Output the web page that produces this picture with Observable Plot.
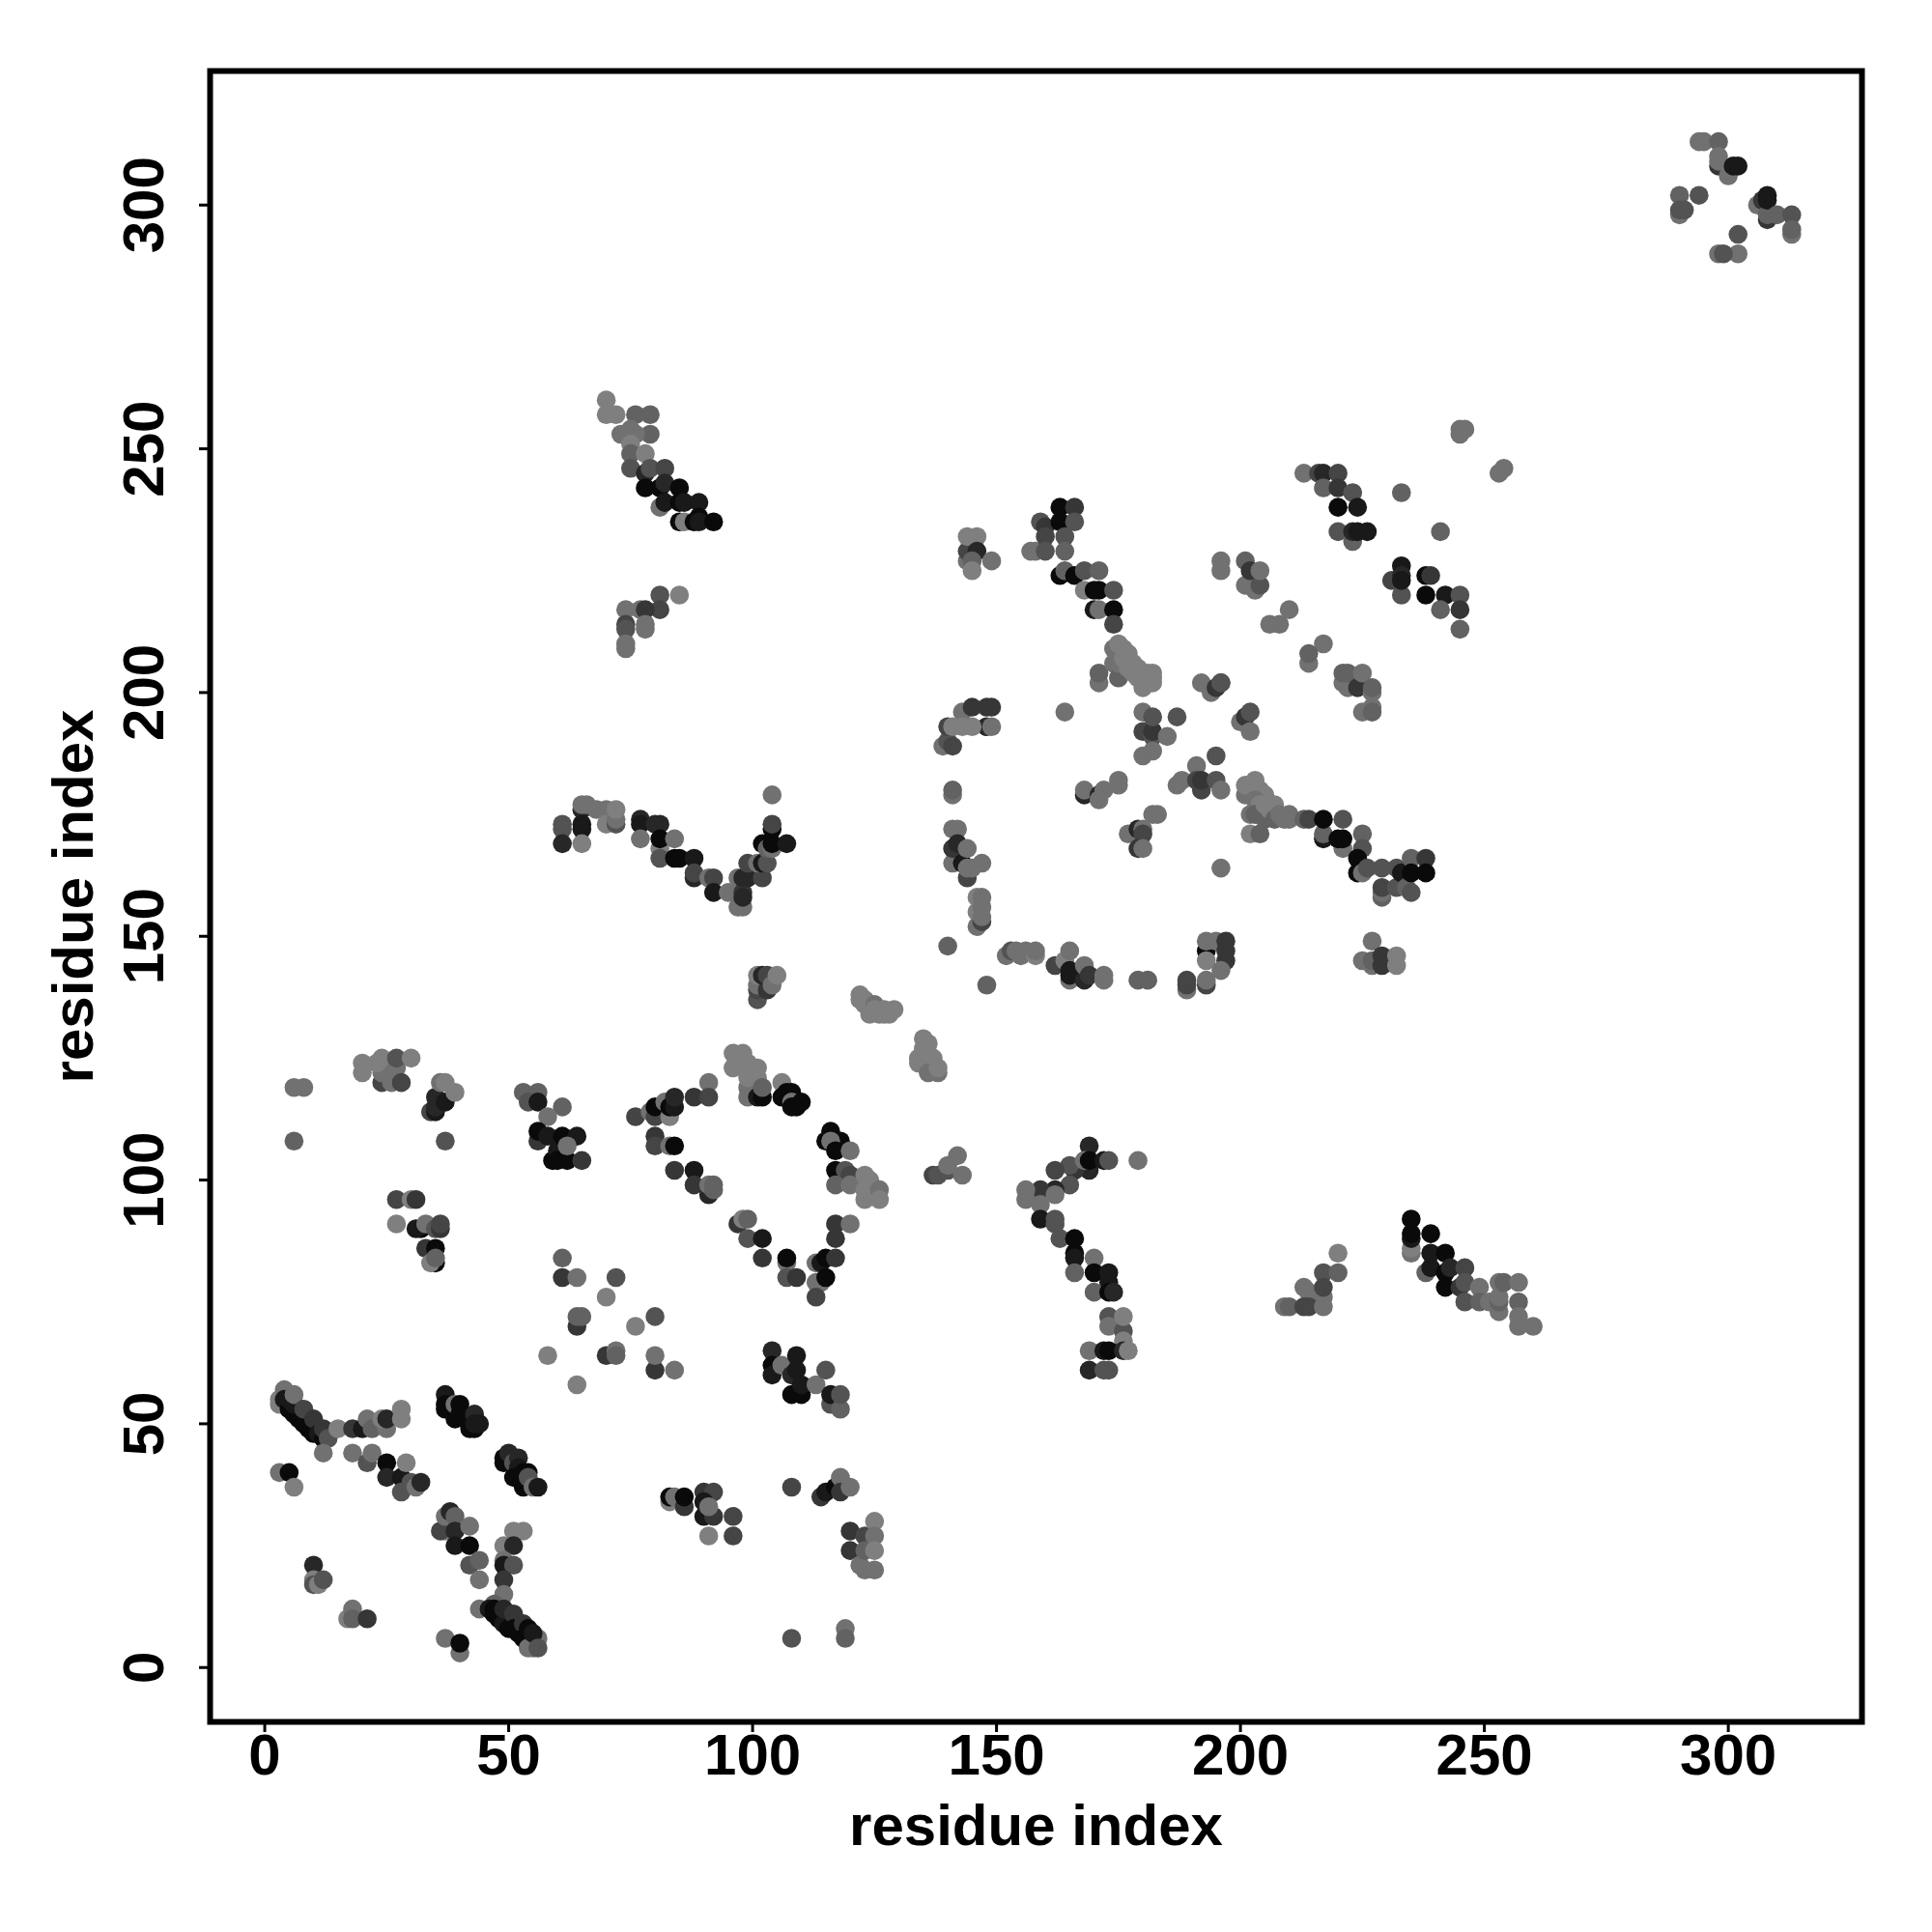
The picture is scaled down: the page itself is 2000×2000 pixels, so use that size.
<!DOCTYPE html>
<html>
<head>
<meta charset="utf-8">
<script src="https://cdn.jsdelivr.net/npm/d3@7"></script>
<script src="https://cdn.jsdelivr.net/npm/@observablehq/plot@0.6"></script>
<style>html,body{margin:0;padding:0;background:#fff}svg{display:block}</style>
</head>
<body>
<div id="chart"></div>
<script>
// Each contact: [residue i, residue j, shade 0 (darkest) .. 9 (lightest)]
const nearOrigin = [[3,54,8],[3,55,8],[4,57,7],[4,55,1],[5,53,0],[5,55,1],[6,52,0],[7,51,0],[8,50,0],[9,49,0],[10,48,0],[6,54,1],[6,56,7],[8,53,4],[10,51,3],[11,48,1],[12,47,0],[12,49,3],[13,47,5],[12,44,7],[15,49,8],[18,49,3],[20,49,1],[21,51,7],[22,49,6],[25,49,7],[24,51,8],[25,51,2],[28,53,8],[28,51,8],
  [18,44,7],[21,42,5],[22,44,7],[25,42,0],[25,39,2],[28,39,1],[28,36,5],[30,38,5],[29,42,8],[31,37,7],[32,38,2],[3,40,7],[5,40,0],[6,37,8]];
const stripB = [[37,56,1],[37,54,0],[37,53,0],[39,51,0],[39,54,7],[40,54,0],[40,52,0],[41,51,0],[42,49,0],[43,49,0],[43,52,2],[43,50,1],[44,50,1]];
const stripC = [[49,42,0],[49,43,0],[50,44,2],[51,42,5],[52,43,2],[52,41,1],[53,40,0],[54,40,0],[51,39,0],[53,37,0],[54,39,5],[55,37,7],[56,37,1]];
const stripD = [[37,28,8],[36,28,4],[37,31,7],[38,32,2],[39,31,6],[39,28,2],[42,29,7],[39,25,1],[42,25,0],[42,21,5],[44,22,6],[44,18,7]];
const stripE = [[49,25,8],[51,28,8],[53,28,8],[51,25,2],[49,22,7],[49,21,1],[51,21,5],[49,18,3],[49,15,7],[44,12,7],[47,13,6],[46,12,1],[47,12,0],[47,11,0],[48,10,0],[49,9,1],[49,12,2],[50,8,0],[51,11,3],[51,8,0],[52,7,0],[53,9,3],[53,6,0],[54,5,0],[54,8,0],[54,4,7],[55,4,7],[56,6,7],[55,7,1],[56,4,5]];
const smallLow = [[37,6,7],[40,3,7],[40,5,0],[10,21,2],[10,18,8],[10,17,5],[11,17,8],[12,18,5],[17,10,8],[18,12,7],[18,10,6],[21,10,3],
  [108,37,4],[108,6,5],[119,8,7],[119,6,6]];
const crossI = [[61,84,6],[61,80,3],[64,80,7],[72,80,5],[70,76,8],[80,72,5],[76,70,8],[64,70,3],[64,72,6],[65,72,6],[58,64,8],[70,64,3],[72,65,7],[72,64,6],[80,61,3],[80,64,7],[84,61,7],[64,58,8]];
const clusterJ = [[83,34,8],[83,35,0],[84,35,7],[86,33,3],[86,35,0],[90,36,3],[92,36,4],[90,34,1],[90,31,1],[92,31,3],[91,33,7],[91,27,8],[96,31,4],[96,27,4]];
const clusterTop = [[6,119,7],[8,119,7],[6,108,6],[37,108,5],
  [20,124,8],[20,122,8],[24,120,4],[26,120,7],[24,122,7],[24,125,8],[23,124,8],[27,123,7],[27,125,5],[28,120,4],[30,125,8],
  [34,114,4],[35,114,1],[35,115,2],[35,117,2],[37,116,1],[36,120,7],[37,120,8],[39,118,8]];
const clusterK = [[53,118,6],[56,118,6],[54,116,5],[56,116,1],[61,115,6],[58,113,7],[56,108,3],[56,110,0],[58,109,1],[59,104,0],[60,106,1],[60,104,0],[62,104,0],[61,109,0],[64,109,1],[62,107,7],[65,104,3]];
const clusterL = [[27,96,4],[30,96,8],[31,96,3],[27,91,8],[32,90,0],[31,90,1],[33,91,7],[35,90,5],[36,90,3],[36,91,4],[33,86,3],[35,86,0],[35,83,0],[34,83,8],[35,84,6]];
const loopLeft = [[91,120,7],[88,117,3],[91,117,4],[76,113,4],[79,114,7],[80,113,4],[80,115,0],[82,116,7],[83,113,8],[83,115,0],[84,115,1],[84,117,2],
  [80,109,3],[80,107,4],[83,107,7],[84,107,0],[84,102,3],[88,102,1],[88,99,3],[91,97,2],[91,99,7],[92,99,6],[92,98,6]];
const loopTop = [[96,123,8],[96,126,8],[97,125,8],[98,126,8],[98,124,8],[99,119,7],[99,117,7],[99,121,8],[99,124,8],[100,122,8],[101,121,8],[101,123,8],[101,117,1],[102,117,0],[102,119,6],
  [106,120,8],[106,117,0],[107,118,0],[108,118,0],[108,116,7],[108,115,0],[109,115,0],[110,116,0]];
const loopRight = [[116,110,0],[115,108,0],[118,108,0],[116,108,7],[117,106,0],[120,106,7],[117,102,0],[119,102,5],[120,101,4],[117,99,6],[120,99,7],[123,101,8],[124,100,8],[123,98,8],[123,96,8],[124,98,8],[125,97,8],[126,98,7],[126,96,8]];
const loopBottom = [[117,91,3],[120,91,7],[117,88,3],[97,91,3],[98,92,8],[99,92,6],[99,88,5],[102,88,1],[102,84,3],[107,83,7],[107,84,0],[107,80,5],[109,80,3],[113,83,7],[114,83,1],[115,84,0],[117,84,3],[113,79,7],[114,79,7],[115,80,0],[113,76,4]];
const patchM = [[104,65,2],[104,62,0],[104,60,1],[106,62,7],[108,60,2],[109,64,1],[109,61,1],[108,56,0],[110,56,0],[110,58,1],[113,58,7],[115,61,5],[116,54,5],[116,56,1],[118,53,6],[118,56,5]];
const patchN = [[114,35,3],[115,36,1],[117,37,0],[118,39,7],[118,36,3],[120,37,7],[120,28,3],[120,24,3],[122,21,7],[123,27,4],[123,24,6],[123,20,7],[125,20,7],[125,30,8],[125,27,7],[125,24,8]];
const armUpper = [[70,260,8],[70,257,8],[72,257,8],[76,257,6],[79,257,6],[73,253,7],[79,253,6],[75,254,7],[76,253,7],[75,251,8],[75,249,6],[78,249,8],[75,246,5],[78,245,2],[79,246,5],[82,246,4],[78,242,0],[81,242,0],[82,243,2],[85,242,0],[81,238,7],[82,239,1],[85,239,0],[86,239,1],[89,239,1],[85,235,0],[86,235,8],[89,236,0],[88,235,0],[89,235,1],[92,235,0]];
const armLower = [[85,220,8],[81,220,5],[81,217,4],[77,217,7],[78,217,3],[74,217,7],[74,214,4],[74,213,5],[78,213,7],[78,214,7],[74,209,7],[74,210,7]];
const chainMid = [[61,173,5],[61,172,5],[61,169,2],[65,176,2],[65,177,7],[66,177,7],[65,173,1],[65,172,1],[65,169,8],[68,176,7],[70,176,7],[70,173,8],[72,173,5],[72,174,7],[72,176,8],
  [77,174,2],[77,173,1],[77,170,7],[80,173,2],[81,173,2],[81,168,8],[81,170,0],[81,166,5],[84,166,0],[85,166,0],[84,170,7],[88,166,1],[88,162,2],[88,163,4],[91,162,7],[92,162,4],[92,159,1],[95,159,7],[97,156,7],[98,156,7],[97,162,7],[98,159,3],[98,158,2],[98,162,2],[99,162,2],[99,165,4],[102,162,4],[101,165,7],[102,165,1],[103,165,5],[102,169,0],[103,168,6],[104,168,7],[104,169,0],[104,172,0],[104,173,4],[107,169,1],[104,179,7]];
const midDiagonal = [[101,137,5],[101,139,4],[101,140,7],[103,139,3],[101,142,8],[102,142,2],[103,142,4],[104,140,7],[105,142,8],
  [122,138,8],[122,137,8],[123,137,8],[123,136,8],[124,135,8],[124,134,8],[125,136,7],[125,135,8],[126,134,8],[127,135,8],[127,134,8],[128,134,8],[129,135,8],
  [135,129,8],[135,127,8],[136,128,8],[136,126,8],[134,125,8],[134,124,8],[136,123,8],[137,124,8],[137,125,8],[136,122,7],[138,122,7],[138,123,8],
  [137,101,4],[138,101,5],[140,102,5],[140,103,7],[142,105,7],[143,101,7]];
const upperA = [[157,229,7],[158,229,7],[159,235,5],[160,234,3],[160,232,4],[160,229,5],[163,238,0],[163,235,0],[166,238,3],[166,235,5],[164,232,5],[164,229,6],[163,224,0],[164,225,6],[166,224,0],[168,225,5],[171,225,6],[168,221,8],[170,221,0],[171,221,0],[174,221,5],[170,217,1],[171,217,7],[174,217,0],[174,214,4]];
const upperB = [[171,202,7],[171,204,6],[174,209,7],[174,206,7],[175,203,6],[175,206,7],[175,210,8],[176,209,8],[176,207,8],[177,208,8],[177,205,8],[178,206,8],[178,204,8],[179,205,8],[179,203,8],[180,201,8],[180,202,8],[181,204,8],[182,204,8],[182,203,8],[182,202,8],[164,196,7]];
const upperC = [[143,196,7],[145,197,3],[148,197,3],[149,197,3],[148,193,2],[149,193,7],[139,189,7],[140,190,5],[141,189,4],[140,193,4],[141,193,8],[143,193,8],[145,193,8],
  [144,227,7],[144,229,4],[144,232,8],[146,232,8],[146,229,2],[145,227,6],[145,225,8],[149,227,7]];
const upperD = [[196,227,7],[196,225,7],[201,222,7],[201,227,6],[202,225,3],[203,221,7],[204,222,5],[204,225,7],[210,217,7],[206,214,7],[208,214,7],[217,210,7],[214,206,7],[214,208,6],
  [221,202,7],[222,201,7],[221,204,6],[222,204,6],[224,201,3],[225,204,7],[227,200,7],[227,201,6],[225,196,7],[227,197,7],[227,196,6]];
const crossP = [[192,202,7],[194,200,7],[195,201,3],[196,202,4],[196,202,5],[180,192,4],[180,196,7],[182,191,5],[182,192,3],[182,195,5],[187,195,5],[185,191,7],[180,187,7],[182,188,7],
  [200,194,7],[201,195,3],[202,196,5],[202,192,7],[195,187,5],[191,185,7],[187,181,7],[188,182,7],[191,182,4],[192,180,4],[192,182,3],[195,182,5],[196,180,7]];
const crossQ = [[168,179,2],[168,180,7],[171,179,2],[171,178,7],[172,180,7],[175,182,7],[175,181,7],[182,175,7],[183,175,7],[177,171,7],[179,172,2],[180,172,7],[180,171,4],[179,168,3],[180,168,7]];
const tailR = [[202,171,8],[204,171,6],[201,179,7],[201,181,8],[203,182,8],[204,180,8],[205,179,8],[203,178,7],[204,177,8],[202,175,7],[203,175,6],[205,174,6],[205,177,8],[206,176,8],[207,177,8],[207,174,6],[208,175,7],[209,174,7],[210,174,7],[210,175,7],
  [213,174,6],[214,174,4],[217,170,1],[217,171,6],[217,174,0],[221,168,7],[220,170,0],[221,170,0],[221,174,5],[225,171,6],[225,168,5],[224,166,0],[224,163,0],[225,163,7],[226,164,5],[229,158,6],[229,159,7],[229,160,4],[229,164,5],[232,164,5],[232,160,5],[233,163,1],[234,160,6],[235,159,5],[235,166,6],[238,166,3],[235,163,0],[238,163,0],[196,164,7]];
const blockS = [[227,149,7],[225,145,7],[227,144,7],[227,145,6],[229,146,3],[229,144,3],[232,146,8],[232,144,8]];
const arcT = [[141,172,7],[142,172,7],[141,165,7],[141,168,3],[142,169,2],[143,165,1],[144,168,7],[144,162,4],[144,164,7],[145,164,7],[147,165,7],
  [146,158,8],[146,155,8],[146,152,7],[147,153,4],[147,154,7],[147,156,7],[147,158,7],[141,179,7],[141,180,6],[140,148,6],[148,140,6],
  [152,146,7],[153,147,5],[154,147,7],[155,146,7],[156,147,7],[158,146,8],[158,147,7],
  [162,144,4],[164,145,8],[165,141,7],[165,142,1],[165,143,1],[165,147,7],[168,141,2],[168,144,7],[169,142,3],[172,141,7],[172,142,7],
  [179,141,6],[181,141,6],[189,139,7],[189,140,4],[189,141,4],[193,140,4],[193,141,7],[193,147,0],[193,145,8],[193,149,7],[195,149,7],[197,145,3],[197,147,3],[197,149,3],[196,143,7]];
const lowerU = [[169,107,2],[169,102,2],[166,102,3],[165,103,5],[168,104,7],[169,104,0],[172,104,1],[173,104,5],[179,104,7],[162,102,4],[165,99,5],[162,98,2],[159,98,3],[156,96,7],[156,98,7],[159,95,7],[162,97,7],[159,92,1],[162,92,5],[162,91,5],[163,88,5],[166,88,0],[166,85,0],[166,84,1],[170,84,7],[166,81,6],[170,81,0],[173,79,1],[173,81,1],[170,77,6],[173,77,0],[174,77,2],
  [173,72,5],[173,70,7],[176,69,5],[176,72,8],[176,67,8],[169,65,7],[172,65,1],[173,65,0],[176,65,2],[177,65,8],[169,61,2],[172,61,5],[173,61,5]];
const lowerV = [[220,85,8],[217,81,5],[220,81,6],[213,78,7],[214,77,7],[217,76,7],[217,78,4],[209,74,7],[210,74,6],[213,74,4],[214,74,4],[217,74,7]];
const lowerW = [[235,92,0],[235,85,7],[235,86,8],[235,88,1],[235,89,0],[239,89,0],[238,81,6],[239,82,1],[239,85,1],[242,85,0],[242,81,0],[243,82,2],[246,82,4],[242,78,0],[245,78,3],[246,79,5],[249,78,7],[246,75,5],[249,75,6],[251,75,7],[253,73,7],[253,75,6],[253,76,7],[253,79,7],[254,79,6],[257,79,7],[257,75,6],[257,72,7],[257,70,7],[260,70,7]];
const upperRight = [[213,245,7],[216,245,4],[217,245,2],[220,245,4],[217,242,6],[220,242,3],[223,241,5],[220,238,0],[224,238,1],[220,233,5],[223,231,6],[223,233,2],[224,233,1],[226,233,1],[233,241,6],[241,233,6],
  [231,223,4],[233,226,1],[233,224,2],[233,220,5],[233,223,1],[238,224,0],[239,224,3],[238,220,0],[242,220,1],[241,217,6],[245,220,5],[245,213,6],[245,217,3],
  [245,253,7],[245,254,7],[246,254,7],[253,245,7],[254,246,7]];
const farCorner = [[294,313,7],[295,313,7],[298,313,6],[298,308,3],[298,310,7],[298,309,7],[300,306,7],[301,308,1],[302,308,1],
  [290,302,6],[294,302,5],[290,298,7],[290,299,5],[291,299,5],[306,300,7],[307,301,3],[308,297,3],[308,298,6],[308,302,1],[308,301,1],[310,298,6],[313,298,5],[313,294,7],[313,295,6],[302,294,5],[298,290,7],[302,290,7],[299,290,5]];
const tickValues = [0, 50, 100, 150, 200, 250, 300];
const axisTitle = "residue index";

const contacts = [nearOrigin, stripB, stripC, stripD, stripE, smallLow, crossI, clusterJ, clusterTop, clusterK, clusterL, loopLeft, loopTop, loopRight, loopBottom, patchM, patchN, armUpper, armLower, chainMid, midDiagonal, upperA, upperB, upperC, upperD, crossP, crossQ, tailR, blockS, arcT, lowerU, lowerV, lowerW, upperRight, farCorner]
  .flat().map(([i, j, shade]) => ({i, j, shade}));

const font = "'Liberation Sans', Arial, Helvetica, sans-serif";
const chart = Plot.plot({
  width: 2000, height: 2000,
  marginLeft: 217, marginRight: 73, marginTop: 73, marginBottom: 218,
  style: {background: "#fff", fontFamily: font, color: "#000"},
  x: {domain: [-11.2, 327.4]},
  y: {domain: [-11.15, 327.5]},
  color: {type: "linear", domain: [0, 9], range: ["#0a0a0a", "#8e8e8e"]},
  marks: [
    Plot.dot(contacts, {x: "i", y: "j", r: 9.8, fill: "shade", stroke: "none"}),
    Plot.frame({stroke: "#000", strokeWidth: 6}),
    Plot.axisX(tickValues, {anchor: "bottom", tickSize: 11, tickPadding: 1, strokeWidth: 3, fontSize: 60, fontWeight: "bold",
      label: axisTitle, labelAnchor: "center", labelArrow: "none", labelOffset: 127, fill: "#000"}),
    Plot.axisY(tickValues, {anchor: "left", tickSize: 11, tickPadding: 38, strokeWidth: 3, fontSize: 60, fontWeight: "bold",
      tickRotate: -90, label: axisTitle, labelAnchor: "center", labelArrow: "none", labelOffset: 164, fill: "#000"})
  ]
});
document.getElementById("chart").appendChild(chart);
</script>
</body>
</html>
